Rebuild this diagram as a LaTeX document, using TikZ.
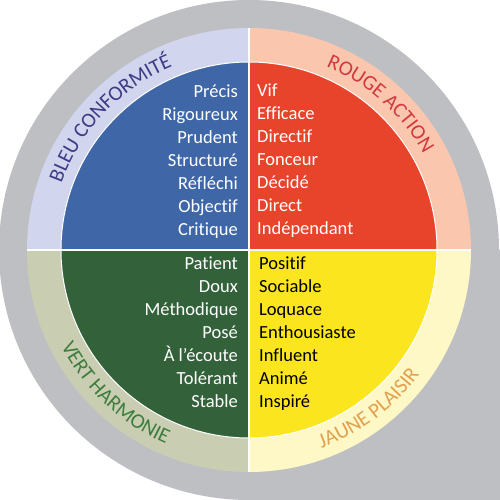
\documentclass[tikz,border=0pt]{standalone}
\usepackage{fontspec}
\setmainfont{Carlito}[Ligatures=NoCommon]
\usetikzlibrary{decorations.text}

\definecolor{outergrey}{HTML}{BEBFC3}
\definecolor{lavender}{HTML}{D2D5EE}
\definecolor{salmon}{HTML}{FAC6AE}
\definecolor{sage}{HTML}{C9CEB2}
\definecolor{paleyellow}{HTML}{FEF8C6}
\definecolor{bleu}{HTML}{3F67A8}
\definecolor{rouge}{HTML}{E8442B}
\definecolor{vert}{HTML}{33623A}
\definecolor{jaune}{HTML}{FAE51F}
\definecolor{bleulabel}{HTML}{3F3B85}
\definecolor{rougelabel}{HTML}{D13A3E}
\definecolor{vertlabel}{HTML}{3E7D3E}
\definecolor{jaunelabel}{HTML}{E2A04E}

\newcommand{\labelfont}{\fontsize{21}{21}\selectfont}

\begin{document}
\begin{tikzpicture}[x=1pt, y=1pt,
    word/.style = {font=\fontsize{18.5}{22}\selectfont, inner sep=0pt},
    sep/.style = {white, line width=1.5pt},
    arclabel/.style = {decorate, decoration={text along path, text align=center, text={#1}}}]
\useasboundingbox (-249,-250) rectangle (251,250);
% grey background
\fill[outergrey] (0,0) circle[radius=250];
\fill[outergrey] (0,0) rectangle (251,-250);
% light ring
\foreach \a/\c in {0/salmon,90/lavender,180/sage,270/paleyellow}
    \fill[\c] (0,0) -- (\a:222) arc[start angle=\a, delta angle=90, radius=222] -- cycle;
% inner disk
\foreach \a/\c in {0/rouge,90/bleu,180/vert,270/jaune}
    \fill[\c] (0,0) -- (\a:188) arc[start angle=\a, delta angle=90, radius=188] -- cycle;
\draw[white, line width=1pt] (0,0) circle[radius=188];
\draw[sep] (-222,0) -- (222,0);
\draw[sep] (0,-222) -- (0,222);
% words
\foreach \w [count=\i] in {Précis,Rigoureux,Prudent,Structuré,Réfléchi,Objectif,Critique}
    \node[word, text=white, anchor=mid east] (bleu\i) at (-11,178-23*\i) {\w};
\foreach \w [count=\i] in {Vif,Efficace,Directif,Fonceur,Décidé,Direct,Indépendant}
    \node[word, text=white, anchor=mid west] (rouge\i) at (8,179-23*\i) {\w};
\foreach \w [count=\i] in {Patient,Doux,Méthodique,Posé,À l’écoute,Tolérant,Stable}
    \node[word, text=white, anchor=mid east] (vert\i) at (-11,6-23*\i) {\w};
\foreach \w [count=\i] in {Positif,Sociable,Loquace,Enthousiaste,Influent,Animé,Inspiré}
    \node[word, text=black, anchor=mid west] (jaune\i) at (10,6-23*\i) {\w};
% ring labels
\path[arclabel={|\labelfont\color{bleulabel}|BLEU CONFORMITÉ}]
    (162:199) arc[start angle=162, end angle=111, radius=199];
\path[arclabel={|\labelfont\color{rougelabel}|ROUGE ACTION}]
    (68:199) arc[start angle=68, end angle=28, radius=199];
\path[arclabel={|\labelfont\color{vertlabel}|VERT HARMONIE}]
    (204:211) arc[start angle=204, end angle=250, radius=211];
\path[arclabel={|\labelfont\color{jaunelabel}|JAUNE PLAISIR}]
    (288:211) arc[start angle=288, end angle=326, radius=211];
\end{tikzpicture}
\end{document}
